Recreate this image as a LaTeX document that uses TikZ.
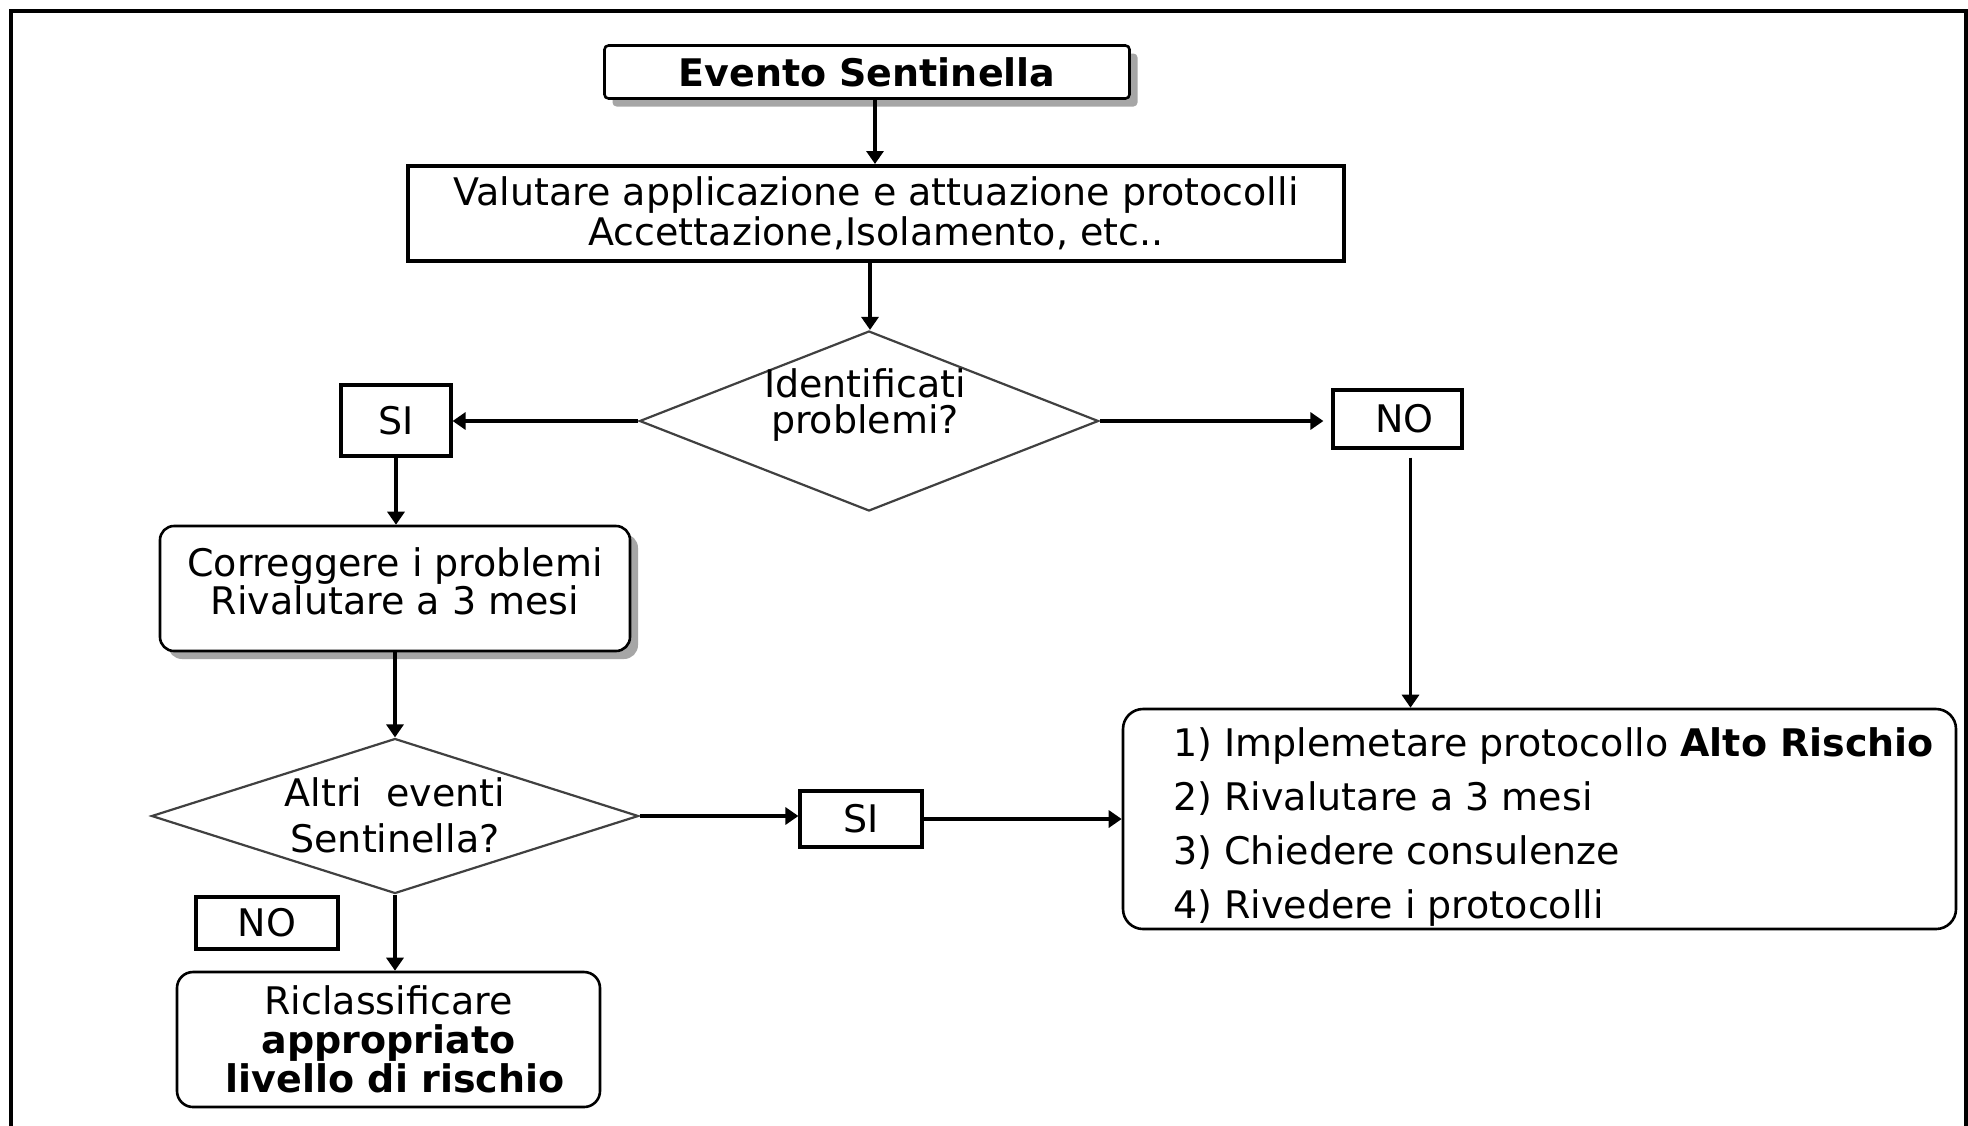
\documentclass[tikz,border=0pt]{standalone}
\usepackage{fontspec}
\setmainfont{DejaVu Sans}
\usetikzlibrary{shapes.geometric,arrows.meta,shadows}
\begin{document}
\begin{tikzpicture}[x=0.5pt,y=-0.5pt,
  every node/.style={font=\fontsize{19}{20}\selectfont, inner sep=0pt},
  plainbox/.style={draw=black, line width=1.6pt, rectangle},
  roundbox/.style={draw=black, line width=1.3pt, rectangle, rounded corners=7pt},
  dia/.style={draw=black!75, line width=1.1pt, diamond},
  arr/.style={draw=black, line width=1.6pt, -{Triangle[width=8.5pt,length=6.5pt]}},
  shad/.style={drop shadow={shadow xshift=4pt, shadow yshift=-4pt, fill=black!35, opacity=1}}
]
\useasboundingbox (0,0) rectangle (1968,1125);
\fill[white] (0,0) rectangle (1968,1125);
\draw[line width=2pt] (11,1200) -- (11,11) -- (1966,11) -- (1966,1200);

% nodes
\node[roundbox, rounded corners=2pt, fill=white, shad, minimum width=262.5pt, minimum height=26.5pt] (ev) at (867,72) {\bfseries Evento Sentinella};
\node[plainbox, line width=2pt, minimum width=468pt, minimum height=47.5pt, align=center] (val) at (876,213.5)
  {Valutare applicazione e attuazione protocolli\\Accettazione,Isolamento, etc..};
\node[dia, minimum width=229.5pt, minimum height=90pt] (d1) at (869,421) {};
\node[align=center, font=\fontsize{19}{18}\selectfont] (d1t) at (865,405) {Identificati\\problemi?};
\node[plainbox, minimum width=55pt, minimum height=35.5pt] (si1) at (396,420.5) {SI};
\node[plainbox, minimum width=64.5pt, minimum height=29pt] (no1) at (1397.5,419) {\hspace*{7pt}NO};
\node[roundbox, rounded corners=7pt, fill=white, shad, minimum width=235pt, minimum height=62.5pt] (cor) at (395,588.5) {};
\node[align=center, font=\fontsize{19}{19}\selectfont] (cort) at (395,581)
  {Correggere i problemi\\Rivalutare a 3 mesi};
\node[dia, minimum width=243.5pt, minimum height=77.5pt] (d2) at (395,816) {};
\node[align=center, font=\fontsize{19}{23}\selectfont] (d2t) at (395,815) {Altri\ \ eventi\\Sentinella?};
\node[plainbox, minimum width=61pt, minimum height=28pt] (si2) at (861,819) {SI};
\node[plainbox, minimum width=71pt, minimum height=26pt] (no2) at (267,923) {NO};
\node[roundbox, rounded corners=8pt, minimum width=211.5pt, minimum height=67.5pt, align=center, font=\fontsize{19}{19.5}\selectfont] (ric) at (388.5,1039.5)
  {Riclassificare\\\bfseries appropriato\\\bfseries\ livello di rischio};
\node[roundbox, rounded corners=10pt, minimum width=416.5pt, minimum height=110pt] (rbox) at (1539.5,819) {};
\node[anchor=west, align=left, font=\fontsize{19}{27}\selectfont] (rtext) at (1173,827)
  {1) Implemetare protocollo \textbf{Alto Rischio}\\2) Rivalutare a 3 mesi\\3) Chiedere consulenze\\4) Rivedere i protocolli};

% connectors
\draw[arr] ([xshift=4pt]ev.south) -- ([xshift=4pt]ev.south |- val.north);
\draw[arr] ([xshift=-3pt]val.south) -- ([xshift=-3pt]val.south |- d1.north);
\draw[arr] (d1.west) -- (d1.west -| si1.east);
\draw[arr] (d1.east) -- ([xshift=-4pt]d1.east -| no1.west);
\draw[arr] ([xshift=6.5pt,yshift=-4pt]no1.south) -- ([xshift=6.5pt]no1.south |- rbox.north);
\draw[arr] (si1.south) -- (si1.south |- cor.north);
\draw[arr] (cor.south) -- (cor.south |- d2.north);
\draw[arr] (d2.east) -- (d2.east -| si2.west);
\draw[arr] (si2.east) -- (si2.east -| rbox.west);
\draw[arr] (d2.south) -- (d2.south |- ric.north);
\end{tikzpicture}
\end{document}
